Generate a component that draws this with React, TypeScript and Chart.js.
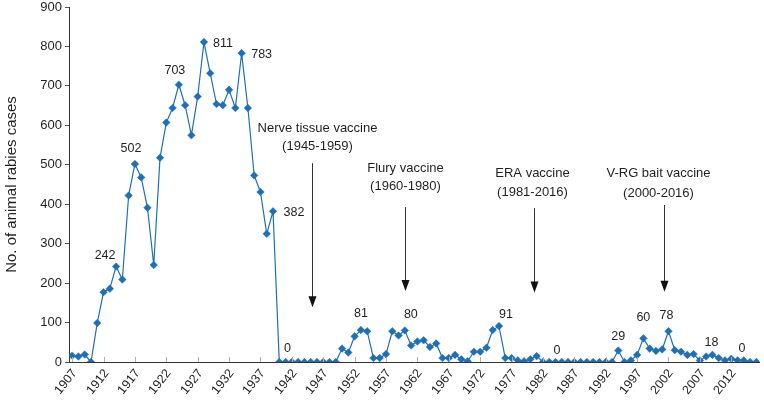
import React, { useEffect, useRef } from "react";
import { Chart, registerables } from "chart.js";

Chart.register(...registerables);

const years = [
  1907, 1908, 1909, 1910, 1911, 1912, 1913, 1914, 1915, 1916,
  1917, 1918, 1919, 1920, 1921, 1922, 1923, 1924, 1925, 1926,
  1927, 1928, 1929, 1930, 1931, 1932, 1933, 1934, 1935, 1936,
  1937, 1938, 1939, 1940, 1941, 1942, 1943, 1944, 1945, 1946,
  1947, 1948, 1949, 1950, 1951, 1952, 1953, 1954, 1955, 1956,
  1957, 1958, 1959, 1960, 1961, 1962, 1963, 1964, 1965, 1966,
  1967, 1968, 1969, 1970, 1971, 1972, 1973, 1974, 1975, 1976,
  1977, 1978, 1979, 1980, 1981, 1982, 1983, 1984, 1985, 1986,
  1987, 1988, 1989, 1990, 1991, 1992, 1993, 1994, 1995, 1996,
  1997, 1998, 1999, 2000, 2001, 2002, 2003, 2004, 2005, 2006,
  2007, 2008, 2009, 2010, 2011, 2012, 2013, 2014, 2015, 2016,
];

const cases = [
  16, 14, 19, 0, 99, 177, 186, 242, 209, 422,
  502, 468, 391, 246, 518, 607, 644, 703, 651, 575,
  673, 811, 732, 654, 651, 690, 644, 783, 644, 473,
  431, 325, 382, 0, 0, 0, 0, 0, 0, 0,
  0, 0, 0, 34, 24, 65, 81, 78, 10, 10,
  20, 78, 67, 80, 42, 52, 55, 38, 47, 10,
  10, 18, 7, 2, 26, 26, 36, 81, 91, 10,
  10, 4, 2, 7, 15, 0, 0, 0, 0, 0,
  0, 0, 0, 0, 0, 0, 0, 29, 0, 4,
  18, 60, 34, 28, 32, 78, 30, 26, 18, 20,
  4, 14, 18, 10, 4, 8, 4, 4, 0, 0,
];

const yTickValues = [0, 100, 200, 300, 400, 500, 600, 700, 800, 900];
const xTickYears = [
  1907, 1912, 1917, 1922, 1927, 1932, 1937, 1942, 1947, 1952, 1957,
  1962, 1967, 1972, 1977, 1982, 1987, 1992, 1997, 2002, 2007, 2012,
];

// which points carry a value label, and where the text sits relative to the point
const labelledYears = [1914, 1917, 1924, 1928, 1934, 1939, 1941, 1953, 1960, 1975, 1984, 1994, 1998, 2002, 2009, 2015];
const labelDx = [-11, -4, -4, 19, 20, 21, 2, 0, 6, 7, 1.5, 0, 0, -2, -1, -8];
const labelDy = [-11, -15, -14, 1, 1, 1, -13, -17, -16, -12, -11, -14, -21, -16, -12, -13];

// vaccine period notes: arrow year, arrow top / tip (in case units), text lines
const noteNames = ["Nerve tissue vaccine", "Flury vaccine", "ERA vaccine", "V-RG bait vaccine"];
const notePeriods = ["(1945-1959)", "(1960-1980)", "(1981-2016)", "(2000-2016)"];
const noteArrowYear = [1945.15, 1960.1, 1980.6, 2001.3];
const noteArrowTop = [504, 393, 390, 398];
const noteArrowTip = [139, 180, 176, 178];
const noteLine1 = [591, 492, 478, 478];
const noteLine2 = [546, 446, 430, 428];
const noteTextDx = [5, 0, -2, -6];

const BLUE = "#1f6fb7";
const TEXT = "#231f20";
const FONT = "'Liberation Sans', Arial, sans-serif";

const notesPlugin = {
  id: "notes",
  afterDatasetsDraw(chart: any) {
    const { ctx, chartArea } = chart;
    const xs = chart.scales.x;
    const ys = chart.scales.y;
    ctx.save();
    // x tick marks pointing into the plot, and rotated year labels
    ctx.strokeStyle = "#b0b0b0";
    ctx.lineWidth = 1;
    ctx.font = `12.5px ${FONT}`;
    ctx.fillStyle = TEXT;
    ctx.textAlign = "right";
    ctx.textBaseline = "middle";
    xTickYears.forEach((yr) => {
      const px = Math.round(xs.getPixelForValue(yr)) + 0.5;
      ctx.beginPath();
      ctx.moveTo(px, chartArea.bottom);
      ctx.lineTo(px, chartArea.bottom - 5);
      ctx.stroke();
      ctx.save();
      ctx.translate(px + 2, chartArea.bottom + 9);
      ctx.rotate((-52 * Math.PI) / 180);
      ctx.fillText(String(yr), 0, 0);
      ctx.restore();
    });
    // value labels
    ctx.fillStyle = TEXT;
    ctx.font = `12.5px ${FONT}`;
    ctx.textAlign = "center";
    ctx.textBaseline = "middle";
    labelledYears.forEach((yr, i) => {
      const idx = years.indexOf(yr);
      const v = cases[idx];
      const px = xs.getPixelForValue(yr);
      const py = ys.getPixelForValue(v);
      ctx.fillText(String(v), px + labelDx[i], py + labelDy[i]);
    });
    // vaccine notes with arrows
    ctx.font = `13px ${FONT}`;
    noteNames.forEach((name, i) => {
      const ax = Math.round(xs.getPixelForValue(noteArrowYear[i])) + 0.5;
      const top = ys.getPixelForValue(noteArrowTop[i]);
      const tip = ys.getPixelForValue(noteArrowTip[i]);
      ctx.strokeStyle = "#333";
      ctx.lineWidth = 1;
      ctx.beginPath();
      ctx.moveTo(ax, top);
      ctx.lineTo(ax, tip - 9);
      ctx.stroke();
      ctx.fillStyle = "#111";
      ctx.beginPath();
      ctx.moveTo(ax - 4, tip - 11);
      ctx.lineTo(ax + 4, tip - 11);
      ctx.lineTo(ax, tip);
      ctx.closePath();
      ctx.fill();
      ctx.fillStyle = TEXT;
      ctx.fillText(name, ax + noteTextDx[i], ys.getPixelForValue(noteLine1[i]));
      ctx.fillText(notePeriods[i], ax + noteTextDx[i], ys.getPixelForValue(noteLine2[i]));
    });
    ctx.restore();
  },
};

export default function App() {
  const canvasRef = useRef<HTMLCanvasElement | null>(null);

  useEffect(() => {
    if (!canvasRef.current) return;
    const chart = new Chart(canvasRef.current, {
      type: "line",
      data: {
        datasets: [
          {
            data: years.map((yr, i) => ({ x: yr, y: cases[i] })),
            borderColor: BLUE,
            backgroundColor: BLUE,
            borderWidth: 1.2,
            pointStyle: "rectRot",
            pointRadius: 3.8,
            pointBorderWidth: 0.5,
            pointBackgroundColor: BLUE,
            pointBorderColor: BLUE,
            tension: 0,
          },
        ],
      },
      options: {
        animation: false,
        responsive: true,
        maintainAspectRatio: false,
        layout: { padding: { top: 0, right: 1, left: 0, bottom: 0 } },
        plugins: {
          legend: { display: false },
          tooltip: { enabled: false },
        },
        scales: {
          x: {
            type: "linear",
            min: 1906.5,
            max: 2016.5,
            afterBuildTicks: (scale: any) => {
              scale.ticks = xTickYears.map((v) => ({ value: v }));
            },
            afterFit: (scale: any) => {
              scale.height = 38;
              scale.paddingLeft = 0;
              scale.paddingRight = 0;
            },
            ticks: { display: false },
            grid: { display: false },
            border: { display: true, color: "#333", width: 1 },
          },
          y: {
            min: 0,
            max: 900,
            afterBuildTicks: (scale: any) => {
              scale.ticks = yTickValues.map((v) => ({ value: v }));
            },
            afterFit: (scale: any) => {
              scale.width = 69;
              scale.paddingTop = 7;
              scale.paddingBottom = 0;
            },
            ticks: {
              padding: 3,
              color: TEXT,
              font: { family: FONT, size: 13 },
            },
            grid: { drawOnChartArea: false, drawTicks: true, tickLength: 4, color: "#555" },
            border: { display: true, color: "#333", width: 1 },
            title: {
              display: true,
              text: "No. of animal rabies cases",
              color: TEXT,
              font: { family: FONT, size: 15 },
              padding: { top: 3, bottom: 0 },
            },
          },
        },
      },
      plugins: [notesPlugin],
    });
    return () => chart.destroy();
  }, []);

  return (
    <div style={{ position: "fixed", left: 0, top: 0, width: 764, height: 400, background: "#fff" }}>
      <canvas ref={canvasRef} />
    </div>
  );
}
